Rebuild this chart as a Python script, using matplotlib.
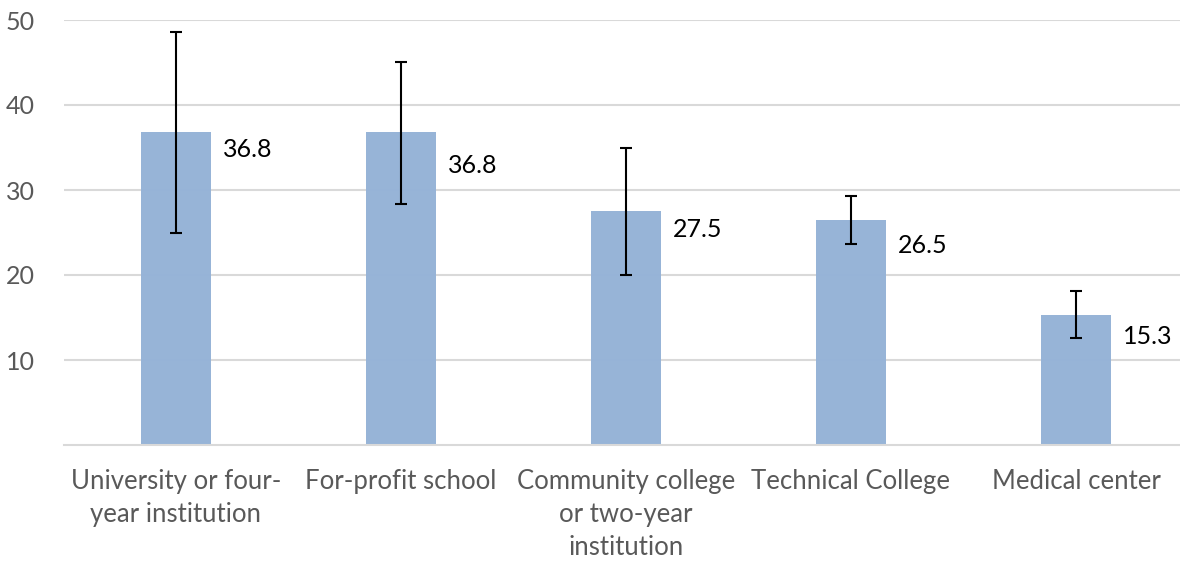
import matplotlib.pyplot as plt

categories = ["University or four-\nyear institution", "For-profit school",
              "Community college\nor two-year\ninstitution", "Technical College",
              "Medical center"]
values = [36.8, 36.8, 27.5, 26.5, 15.3]
err_low = [25.0, 28.4, 20.0, 23.7, 12.6]
err_high = [48.6, 45.1, 35.0, 29.3, 18.1]
yticks = [10, 20, 30, 40, 50]

# where the value labels sit, below the bar top (data units)
label_drop = [2.0, 3.9, 2.1, 3.0, 2.5]

plt.rcParams['font.family'] = ['Lato', 'DejaVu Sans']

fig = plt.figure(figsize=(11.8, 5.61), dpi=100)
ax = fig.add_axes([64 / 1180, 1 - 445 / 561, (1180 - 64) / 1180, (445 - 20) / 561])

x = list(range(len(values)))
lower = [v - lo for v, lo in zip(values, err_low)]
upper = [hi - v for v, hi in zip(values, err_high)]

ax.bar(x, values, width=0.31, color='#95B3D7', alpha=0.98, zorder=2)
ax.errorbar(x, values, yerr=[lower, upper], fmt='none', ecolor='black',
            elinewidth=1.5, capsize=4.5, capthick=1.5, zorder=3)

for i, v in enumerate(values):
    ax.text(i + 0.21, v - label_drop[i], f"{v:.1f}", fontsize=18,
            ha='left', va='center', color='black', zorder=4)

ax.set_xlim(-0.497, 4.462)
ax.set_ylim(0, 50)
ax.set_yticks(yticks)
ax.set_xticks(x)
ax.set_xticklabels(categories, fontsize=18.5, color='#595959', linespacing=1.42)
ax.tick_params(axis='y', labelsize=18, labelcolor='#595959', length=0, pad=21)
ax.tick_params(axis='x', length=0, pad=17)

ax.grid(axis='y', color='#D9D9D9', linewidth=1.5, zorder=0)
for s in ['top', 'right', 'left']:
    ax.spines[s].set_visible(False)
ax.spines['bottom'].set_color('#D9D9D9')
ax.spines['bottom'].set_linewidth(1.5)
ax.set_axisbelow(True)

fig.savefig('out.png', dpi=100)
